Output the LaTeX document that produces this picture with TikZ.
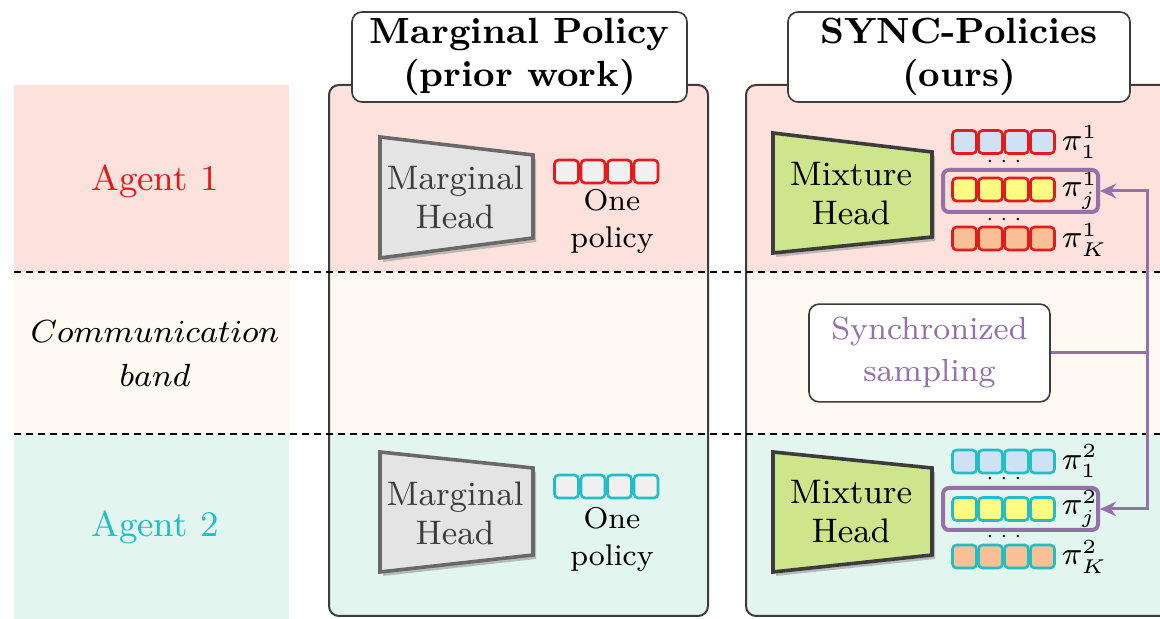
\documentclass[tikz,border=0pt]{standalone}
\usetikzlibrary{arrows.meta}
\definecolor{pinkband}{RGB}{253,225,220}
\definecolor{creamband}{RGB}{254,250,242}
\definecolor{mintband}{RGB}{226,245,239}
\definecolor{agentred}{RGB}{228,26,28}
\definecolor{agentcyan}{RGB}{32,190,198}
\definecolor{panelgray}{RGB}{60,60,60}
\definecolor{syncpurple}{RGB}{150,112,170}
\definecolor{mixgreen}{RGB}{205,230,140}
\definecolor{margfill}{RGB}{228,228,228}
\definecolor{margedge}{RGB}{105,105,105}
\definecolor{margtext}{RGB}{60,60,60}
\definecolor{sqblue}{RGB}{207,226,243}
\definecolor{sqyellow}{RGB}{255,250,130}
\definecolor{sqorange}{RGB}{249,192,150}
\definecolor{sqgray}{RGB}{240,240,240}
\definecolor{shadowgray}{RGB}{150,150,150}
\begin{document}
\begin{tikzpicture}[x=0.25pt,y=-0.25pt,
  bandline/.style={dash pattern=on 1.75pt off 1.25pt, line width=0.35pt, draw=black},
  panel/.style={draw=panelgray, line width=0.5pt, rounded corners=2.5pt},
  titlebox/.style={draw=panelgray, line width=0.4pt, fill=white, rounded corners=2.5pt,
    align=center, inner sep=0pt, font=\fontsize{9.1}{10.75}\selectfont\bfseries},
  agentlabel/.style={font=\fontsize{9}{11}\selectfont, align=center},
  commlabel/.style={font=\fontsize{8.1}{11}\selectfont, align=center},
  margshape/.style={fill=margfill, draw=margedge, line width=0.9pt, line join=miter},
  mixshape/.style={fill=mixgreen, draw=panelgray, line width=0.9pt, line join=miter},
  headshadow/.style={fill=shadowgray, opacity=0.6},
  headtext/.style={font=\fontsize{8.5}{9.75}\selectfont, align=center},
  onetext/.style={font=\fontsize{7.5}{9.25}\selectfont, align=center},
  sq/.style={rectangle, minimum width=6pt, minimum height=5.75pt, inner sep=0pt,
    rounded corners=1pt, line width=0.65pt},
  pick/.style={rectangle, draw=syncpurple, line width=1pt, rounded corners=1.5pt,
    minimum width=38.75pt, minimum height=10.5pt, inner sep=0pt},
  pilabel/.style={anchor=west, inner sep=0pt, font=\fontsize{7.6}{9}\selectfont},
  dotslabel/.style={inner sep=0pt, font=\fontsize{5.5}{6}\selectfont},
  syncbox/.style={rectangle, draw=panelgray, line width=0.4pt, fill=white, rounded corners=2.5pt,
    minimum width=60.25pt, minimum height=22.5pt, align=center, text=syncpurple,
    font=\fontsize{8}{10.5}\selectfont},
  syncline/.style={draw=syncpurple, line width=0.75pt, -{Stealth[length=4pt,width=3.6pt]}}
]
\useasboundingbox (0,0) rectangle (1160,619);
\clip (0,0) rectangle (1160,619);

% left band column
\fill[pinkband] (14,85) rectangle (289,272);
\fill[creamband] (14,272) rectangle (289,434);
\fill[mintband] (14,434) rectangle (289,619);

% middle panel
\begin{scope}
\clip[rounded corners=2.5pt] (329,85) rectangle (708,616);
\fill[pinkband] (329,85) rectangle (708,272);
\fill[creamband] (329,272) rectangle (708,434);
\fill[mintband] (329,434) rectangle (708,616);
\end{scope}
\draw[panel] (329,85) rectangle (708,616);

% right panel
\begin{scope}
\clip[rounded corners=2.5pt] (746,85) rectangle (1180,616);
\fill[pinkband] (746,85) rectangle (1180,272);
\fill[creamband] (746,272) rectangle (1180,434);
\fill[mintband] (746,434) rectangle (1180,616);
\end{scope}
\draw[panel] (746,85) rectangle (1180,616);

% dashed separators
\draw[bandline] (14,272) -- (1160,272);
\draw[bandline] (14,434) -- (1160,434);

% titles
\node[titlebox, minimum width=83.75pt, minimum height=22.5pt] (ttlmarg) at (519.5,57) {Marginal Policy\\(prior work)};
\node[titlebox, minimum width=85.5pt, minimum height=22.5pt] (ttlsync) at (959,57) {SYNC-Policies\\(ours)};

% row labels
\node[agentlabel, text=agentred] (agent1) at (155,181) {Agent 1};
\node[commlabel] (comm) at (155,354) {$Communication$\\$band$};
\node[agentlabel, text=agentcyan] (agent2) at (155,527) {Agent 2};

% heads
\begin{scope}[shift={(3,4)}]
\fill[headshadow] (380,137) -- (533,155) -- (533,238) -- (380,258) -- cycle;
\fill[headshadow] (380,452) -- (533,468) -- (533,555) -- (380,572) -- cycle;
\fill[headshadow] (773,133) -- (932,152) -- (932,237) -- (773,253) -- cycle;
\fill[headshadow] (773,452) -- (932,468) -- (932,555) -- (773,572) -- cycle;
\end{scope}
\draw[margshape] (380,137) -- (533,155) -- (533,238) -- (380,258) -- cycle;
\draw[margshape] (380,452) -- (533,468) -- (533,555) -- (380,572) -- cycle;
\draw[mixshape] (773,133) -- (932,152) -- (932,237) -- (773,253) -- cycle;
\draw[mixshape] (773,452) -- (932,468) -- (932,555) -- (773,572) -- cycle;
\node[headtext, text=margtext] (margh1) at (455,197) {Marginal\\Head};
\node[headtext, text=margtext] (margh2) at (455,513) {Marginal\\Head};
\node[headtext] (mixh1) at (851,194) {Mixture\\Head};
\node[headtext] (mixh2) at (851,512) {Mixture\\Head};

% one policy squares
\foreach \i/\x in {1/566.5,2/593,3/619.5,4/646} {
  \node[sq, draw=agentred, fill=sqgray] (ma\i) at (\x,171.5) {};
  \node[sq, draw=agentcyan, fill=sqgray] (mb\i) at (\x,486.5) {};
}
\node[onetext] (one1) at (612,222) {One\\policy};
\node[onetext] (one2) at (612,540) {One\\policy};

% mixture policies
\foreach \i/\x in {1/964.5,2/990.5,3/1016.5,4/1042.5} {
  \node[sq, draw=agentred, fill=sqblue] (a1r\i) at (\x,142) {};
  \node[sq, draw=agentred, fill=sqyellow] (a1j\i) at (\x,189.5) {};
  \node[sq, draw=agentred, fill=sqorange] (a1k\i) at (\x,238.5) {};
  \node[sq, draw=agentcyan, fill=sqblue] (a2r\i) at (\x,461.5) {};
  \node[sq, draw=agentcyan, fill=sqyellow] (a2j\i) at (\x,509) {};
  \node[sq, draw=agentcyan, fill=sqorange] (a2k\i) at (\x,556.5) {};
}
\node[pick] (pj1) at (1020.5,191) {};
\node[pick] (pj2) at (1020.5,509) {};

\node[pilabel] (pa1) at (1061,142) {$\pi_1^1$};
\node[pilabel] (pa2) at (1061,191) {$\pi_j^1$};
\node[pilabel] (pa3) at (1061,240) {$\pi_K^1$};
\node[pilabel] (pb1) at (1061,461) {$\pi_1^2$};
\node[pilabel] (pb2) at (1061,509) {$\pi_j^2$};
\node[pilabel] (pb3) at (1061,557) {$\pi_K^2$};

\node[dotslabel] (d1) at (1004,162) {$\cdots$};
\node[dotslabel] (d2) at (1004,220) {$\cdots$};
\node[dotslabel] (d3) at (1004,479) {$\cdots$};
\node[dotslabel] (d4) at (1004,537) {$\cdots$};

% synchronized sampling
\node[syncbox] (sync) at (929.5,353) {Synchronized\\sampling};
\coordinate (vt) at (1147,191);
\coordinate (vb) at (1147,509);
\draw[syncline] (sync.east) -| (vt) -- (pj1.east);
\draw[syncline] (sync.east) -| (vb) -- (pj2.east);
\end{tikzpicture}
\end{document}
